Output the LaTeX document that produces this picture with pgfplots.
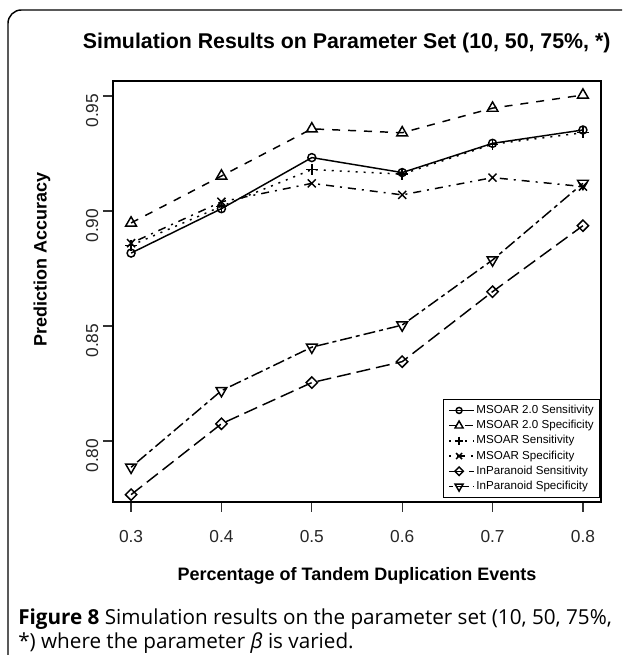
\documentclass[border=0pt]{standalone}
\usepackage{pgfplots}
\pgfplotsset{compat=1.18}
\usepackage{fontspec}
\setmainfont{Liberation Sans}
\newfontfamily\capfont{Open Sans}
\usetikzlibrary{plotmarks}

\pgfplotstableread{
x     s2     p2     s1     p1     si     pi
0.3   0.8817 0.8948 0.8850 0.8860 0.7767 0.7886
0.4   0.9010 0.9152 0.9020 0.9040 0.8075 0.8219
0.5   0.9232 0.9357 0.9180 0.9120 0.8254 0.8408
0.6   0.9167 0.9340 0.9160 0.9070 0.8345 0.8504
0.7   0.9294 0.9447 0.9290 0.9145 0.8649 0.8787
0.8   0.9352 0.9504 0.9340 0.9106 0.8936 0.9120
}\datatable

\begin{document}
\begin{tikzpicture}
\useasboundingbox (0,0) rectangle (468.75pt,491.25pt);
% outer frame
\draw[line width=1.1pt, rounded corners=10pt] (466.5pt,483.75pt) -- (6pt,483.75pt) -- (6pt,0pt);
% title
\node[font=\fontsize{16}{16}\selectfont\bfseries] at (260pt,459pt) {Simulation Results on Parameter Set (10, 50, 75\%, *)};

\begin{axis}[
  at={(84.75pt,114.75pt)}, anchor=south west,
  scale only axis, width=366pt, height=315.75pt,
  xmin=0.28, xmax=0.82, ymin=0.7735, ymax=0.9565,
  axis line style={line width=1pt},
  tick align=outside, xtick pos=left, ytick pos=left,
  major tick length=7.5pt,
  every tick/.style={black!80, line width=0.9pt},
  xtick={0.3,0.4,0.5,0.6,0.7,0.8},
  xticklabels={0.3,0.4,0.5,0.6,0.7,0.8},
  ytick={0.80,0.85,0.90,0.95},
  yticklabels={0.80,0.85,0.90,0.95},
  ticklabel style={font=\fontsize{13}{13}\selectfont, text=black!85},
  xticklabel style={yshift=-10pt},
  yticklabel style={rotate=90, anchor=south, xshift=-11pt},
  xlabel={Percentage of Tandem Duplication Events},
  ylabel={Prediction Accuracy},
  label style={font=\fontsize{13.5}{13.5}\selectfont\bfseries},
  xlabel style={at={(axis description cs:0.5,-0.176)}, anchor=center},
  ylabel style={at={(axis description cs:-0.1455,0.575)}, anchor=center, rotate=0},
  legend style={at={(1,0)}, anchor=south east, yshift=3pt, xshift=-0.5pt,
    draw=black, line width=0.8pt, font=\fontsize{8.7}{8.7}\selectfont,
    inner xsep=3.5pt, inner ysep=3pt,
    nodes={inner sep=1pt, text height=6.5pt, text depth=2pt},
    row sep=0.9pt, column sep=0pt},
  legend cell align=left,
  legend image code/.code={%
    \path (0pt,0pt) -- (19pt,0pt);
    \draw[#1, mark=none] (0pt,0pt) -- (15pt,0pt);
    \draw[#1, every mark/.append style={scale=0.75}] plot coordinates {(7.5pt,0pt)};},
  every axis plot/.append style={black, line width=1.1pt},
]
\addplot[mark=o, mark size=3pt, mark options={solid}] table[x=x,y=s2] {\datatable};
\addlegendentry{MSOAR 2.0 Sensitivity}
\addplot[dash pattern=on 6pt off 6pt, mark=triangle, mark size=4.65pt, mark options={solid}] table[x=x,y=p2] {\datatable};
\addlegendentry{MSOAR 2.0 Specificity}
\addplot[dash pattern=on 1.5pt off 4.5pt, mark=+, mark size=4.25pt, mark options={solid}] table[x=x,y=s1] {\datatable};
\addlegendentry{MSOAR Sensitivity}
\addplot[dash pattern=on 1.5pt off 4.5pt on 6pt off 4.5pt, mark=x, mark size=4.25pt, mark options={solid}] table[x=x,y=p1] {\datatable};
\addlegendentry{MSOAR Specificity}
\addplot[dash pattern=on 10.5pt off 4.5pt, mark=square, mark size=3pt, mark options={solid, rotate=45}] table[x=x,y=si] {\datatable};
\addlegendentry{InParanoid Sensitivity}
\addplot[dash pattern=on 3pt off 3pt on 9pt off 3pt, mark=triangle, mark size=4.65pt, mark options={solid, rotate=180}] table[x=x,y=pi] {\datatable};
\addlegendentry{InParanoid Specificity}
\end{axis}

% caption
\node[anchor=base west, inner sep=0pt, font=\capfont\fontsize{15.5}{15.5}\selectfont] at (13.5pt,23pt) {\textbf{Figure 8} Simulation results on the parameter set (10, 50, 75\%,};
\node[anchor=base west, inner sep=0pt, font=\capfont\fontsize{15.5}{15.5}\selectfont] at (13.5pt,5pt) {*) where the parameter \textit{β} is varied.};
\end{tikzpicture}
\end{document}
